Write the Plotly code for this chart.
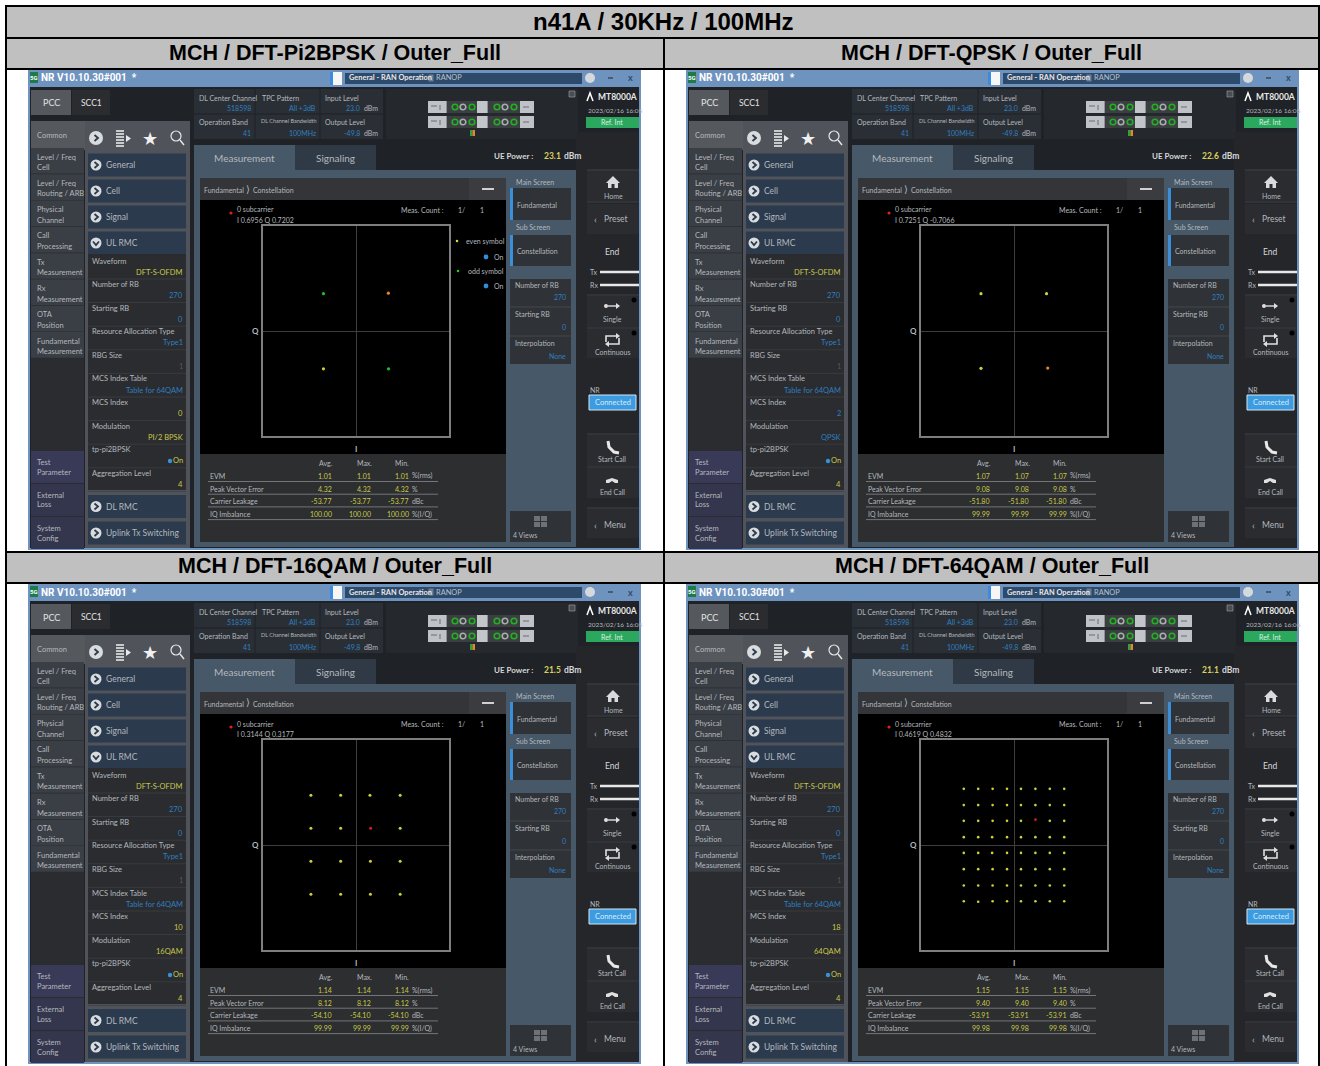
import plotly.graph_objects as go

W, H = 1320, 1066

main_title = "n41A / 30KHz / 100MHz"
panel_titles = ["MCH / DFT-Pi2BPSK / Outer_Full", "MCH / DFT-QPSK / Outer_Full",
                "MCH / DFT-16QAM / Outer_Full", "MCH / DFT-64QAM / Outer_Full"]
timestamps = ["2023/02/16 16:05", "2023/02/16 16:05", "2023/02/16 16:05", "2023/02/16 16:06"]
ue_power = ["23.1", "22.6", "21.5", "21.1"]
mcs_index = ["0", "2", "10", "18"]
modulation = ["PI/2 BPSK", "QPSK", "16QAM", "64QAM"]
mod_highlight = [True, False, True, True]
marker_text = ["I 0.6956 Q 0.7202", "I 0.7251 Q -0.7066", "I 0.3144 Q 0.3177", "I 0.4619 Q 0.4832"]

evm = ["1.01", "1.07", "1.14", "1.15"]
peak_vector = ["4.32", "9.08", "8.12", "9.40"]
carrier_leak = ["-53.77", "-51.80", "-54.10", "-53.91"]
iq_imbalance = ["100.00", "99.99", "99.99", "99.98"]

# constellation points (I, Q)
bpsk_even_i = [-0.70]
bpsk_even_q = [-0.72]
bpsk_odd_i = [-0.70, 0.70]
bpsk_odd_q = [0.71, -0.72]
bpsk_mark_i = [0.6956]
bpsk_mark_q = [0.7202]

qpsk_even_i = [-0.71, 0.70, -0.71]
qpsk_even_q = [0.71, 0.71, -0.71]
qpsk_odd_i = []
qpsk_odd_q = []
qpsk_mark_i = [0.7251]
qpsk_mark_q = [-0.7066]

qam16_even_i = [-0.97, -0.33, 0.30, 0.95,
                -0.97, -0.33, 0.95,
                -0.97, -0.33, 0.31, 0.95,
                -0.97, -0.33, 0.31, 0.95]
qam16_even_q = [0.95, 0.95, 0.95, 0.95,
                0.32, 0.32, 0.32,
                -0.31, -0.31, -0.31, -0.31,
                -0.94, -0.94, -0.94, -0.94]
qam16_odd_i = []
qam16_odd_q = []
qam16_mark_i = [0.3144]
qam16_mark_q = [0.3177]

qam64_even_i = [-1.08, -0.77, -0.46, -0.15, 0.15, 0.46, 0.77, 1.08,
                -1.08, -0.77, -0.46, -0.15, 0.15, 0.46, 0.77, 1.08,
                -1.08, -0.77, -0.46, -0.15, 0.15, 0.77, 1.08,
                -1.08, -0.77, -0.47, -0.15, 0.15, 0.46, 0.77, 1.08,
                -1.08, -0.77, -0.47, -0.15, 0.15, 0.46, 0.77, 1.08,
                -1.08, -0.77, -0.46, -0.15, 0.15, 0.46, 0.77, 1.08,
                -1.08, -0.77, -0.46, -0.15, 0.15, 0.46, 0.77, 1.08,
                -1.08, -0.77, -0.46, -0.15, 0.15, 0.46, 0.77, 1.08]
qam64_even_q = [1.07, 1.07, 1.07, 1.07, 1.07, 1.07, 1.07, 1.07,
                0.76, 0.76, 0.76, 0.76, 0.76, 0.76, 0.76, 0.76,
                0.46, 0.46, 0.46, 0.46, 0.46, 0.46, 0.46,
                0.15, 0.15, 0.15, 0.15, 0.15, 0.15, 0.15, 0.15,
                -0.15, -0.15, -0.15, -0.15, -0.15, -0.15, -0.15, -0.15,
                -0.46, -0.46, -0.46, -0.46, -0.46, -0.46, -0.46, -0.46,
                -0.77, -0.77, -0.77, -0.77, -0.77, -0.77, -0.77, -0.77,
                -1.07, -1.08, -1.07, -1.07, -1.07, -1.07, -1.07, -1.07]
qam64_odd_i = []
qam64_odd_q = []
qam64_mark_i = [0.4619]
qam64_mark_q = [0.4832]

constellations = [
    (bpsk_even_i, bpsk_even_q, bpsk_odd_i, bpsk_odd_q, bpsk_mark_i, bpsk_mark_q, "#e8842a", 3.2),
    (qpsk_even_i, qpsk_even_q, qpsk_odd_i, qpsk_odd_q, qpsk_mark_i, qpsk_mark_q, "#e8842a", 3.2),
    (qam16_even_i, qam16_even_q, qam16_odd_i, qam16_odd_q, qam16_mark_i, qam16_mark_q, "#d81e1e", 3),
    (qam64_even_i, qam64_even_q, qam64_odd_i, qam64_odd_q, qam64_mark_i, qam64_mark_q, "#d81e1e", 2.6),
]

left_tabs = [("Level / Freq", "Cell"), ("Level / Freq", "Routing / ARB"), ("Physical", "Channel"),
             ("Call", "Processing"), ("Tx", "Measurement"), ("Rx", "Measurement"),
             ("OTA", "Position"), ("Fundamental", "Measurement")]
bottom_tabs = [("Test", "Parameter"), ("External", "Loss"), ("System", "Config")]
group_buttons = [("General", 165), ("Cell", 191), ("Signal", 217), ("UL RMC", 243)]

FONT = "Lato"
SCALE = 1.0
BLUE = "#2f7fc0"
YEL = "#c9c94a"
TXT = "#b4b8bd"
WHITE = "#e4e6e8"

shapes, annos = [], []
fx = lambda x: x / W
fy = lambda y: 1 - y / H


def R(x0, y0, x1, y1, fill, line=None, lw=1):
    shapes.append(dict(type="rect", xref="paper", yref="paper", x0=fx(x0), x1=fx(x1), y0=fy(y0), y1=fy(y1),
                       fillcolor=fill, line=dict(color=line, width=lw) if line else dict(width=0), layer="below"))


def L(x0, y0, x1, y1, color, lw=1):
    shapes.append(dict(type="line", xref="paper", yref="paper", x0=fx(x0), x1=fx(x1), y0=fy(y0), y1=fy(y1),
                       line=dict(color=color, width=lw), layer="below"))


def C(cx, cy, r, fill, line=None, lw=1):
    shapes.append(dict(type="circle", xref="paper", yref="paper", x0=fx(cx - r), x1=fx(cx + r), y0=fy(cy - r), y1=fy(cy + r),
                       fillcolor=fill, line=dict(color=line, width=lw) if line else dict(width=0), layer="below"))


def P(pts, fill=None, line=None, lw=1, close=True):
    d = "M " + " L ".join(f"{fx(a):.5f} {fy(b):.5f}" for a, b in pts) + (" Z" if close else "")
    shapes.append(dict(type="path", xref="paper", yref="paper", path=d,
                       fillcolor=fill if fill else "rgba(0,0,0,0)",
                       line=dict(color=line, width=lw) if line else dict(width=0), layer="below"))


def T(x, y, s, color=TXT, size=8, anchor="left", bold=False, font=FONT):
    if bold:
        s = f"<b>{s}</b>"
    if font == FONT:
        size = size * SCALE
    annos.append(dict(xref="paper", yref="paper", x=fx(x), y=fy(y), text=s, showarrow=False, xanchor=anchor,
                      yanchor="middle", borderpad=0, font=dict(family=font, size=size, color=color)))


def chevron_btn(x, y, r=6, down=False):
    C(x, y, r, "#d9dcdf")
    if down:
        P([(x - 3, y - 1.5), (x, y + 2), (x + 3, y - 1.5)], None, "#2b3a4d", 1.8, close=False)
    else:
        P([(x - 1.5, y - 3), (x + 2, y), (x - 1.5, y + 3)], None, "#2b3a4d", 1.8, close=False)


def panel(i, ox, oy):
    X = lambda x: x + ox
    Y = lambda y: y + oy
    def r(a, b, c, d, f, **k): R(X(a), Y(b), X(c), Y(d), f, **k)
    def l(a, b, c, d, col, lw=1): L(X(a), Y(b), X(c), Y(d), col, lw)
    def c(a, b, rad, f, **k): C(X(a), Y(b), rad, f, **k)
    def p(pts, *a, **k): P([(X(u), Y(v)) for u, v in pts], *a, **k)
    def t(a, b, s, *q, **k): T(X(a), Y(b), s, *q, **k)

    # window
    r(28, 69, 641, 550, "#1f2226")
    r(28, 69, 641, 87, "#6f93bf")
    r(28, 87, 30, 550, "#6f93bf")
    r(639, 87, 641, 550, "#6f93bf")
    r(28, 548, 641, 550, "#6f93bf")
    r(30, 72, 38, 83, "#1d7a4a")
    t(34, 77.5, "5G", "#ffffff", 6, "center", True, font="Roboto")
    t(40, 78, "NR V10.10.30#001  *", "#ffffff", 10, bold=True, font="Roboto")
    r(330, 72, 333, 85, "#3b8be0")
    r(333, 72, 342, 85, "#f6f6f6")
    r(345, 73, 582, 84, "#2e4a6a")
    t(348, 78, "General - RAN Operation", "#e8e8e8", 7.4, bold=True)
    r(428.5, 74.5, 433.5, 81.5, "#6d7f94")
    t(435, 78, "RANOP", "#b8c2cc", 7.4)
    c(590, 78, 5, "#d6d9dc")
    l(608, 78, 613, 78, "#3a4a5c", 1.5)
    t(630, 78, "x", "#2e4a6a", 9, "center", True)

    # top tabs
    r(31, 90, 71, 115, "#55595e")
    t(51, 103, "PCC", "#e2e2e2", 9, "center")
    r(72, 90, 110, 115, "#2a2c30")
    t(91, 103, "SCC1", "#e2e2e2", 8.5, "center")

    # info block
    r(194, 89, 383, 139, "#2a2f36")
    l(255, 89, 255, 139, "#1f2226")
    l(320, 89, 320, 139, "#1f2226")
    l(194, 114, 383, 114, "#1f2226")
    t(198, 98, "DL Center Channel", TXT, 7)
    t(252, 108, "518598", BLUE, 7, "right")
    t(261, 98, "TPC Pattern", TXT, 7)
    t(317, 108, "All +3dB", BLUE, 7, "right")
    t(324, 98, "Input Level", TXT, 7)
    t(361, 108, "23.0", BLUE, 7, "right")
    t(363, 108, "dBm", TXT, 7)
    t(198, 122, "Operation Band", TXT, 7)
    t(252, 133, "41", BLUE, 7, "right")
    t(260, 121, "DL Channel Bandwidth", TXT, 5.5)
    t(317, 133, "100MHz", BLUE, 7, "right")
    t(324, 122, "Output Level", TXT, 7)
    t(361, 133, "-49.8", BLUE, 7, "right")
    t(363, 133, "dBm", TXT, 7)

    # block diagram
    r(386, 89, 578, 139, "#25282c")
    for y0 in (101, 116):
        r(428, y0, 534, y0 + 12, "#8d9094")
        r(428, y0, 446, y0 + 12, "#bfc2c6")
        l(431, y0 + 5, 437, y0 + 5, "#6a6d70", 1)
        l(440, y0 + 4, 440, y0 + 9, "#6a6d70", 1)
        r(447, y0, 477, y0 + 12, "#3c3f42")
        r(477, y0, 487, y0 + 12, "#c2c5c9")
        r(488, y0, 520, y0 + 12, "#3c3f42")
        r(520, y0, 534, y0 + 12, "#bfc2c6")
        l(523, y0 + 6, 529, y0 + 6, "#6a6d70", 1)
        for cx, col in [(455, "#22b022"), (463, "#a8aeae"), (472, "#22b022"),
                        (497, "#22b022"), (505, "#a8aeae"), (514, "#22b022")]:
            c(cx, y0 + 6, 2.8, "#3c3f42", line=col, lw=1.6)
    r(470, 130, 472.5, 136, "#30a040")
    r(472.5, 130, 475, 136, "#e08a30")
    r(569, 91, 575, 97, "#4a4e54", line="#a0a4a8", lw=0.6)

    # brand
    p([(587, 101), (590, 93), (593, 101)], None, "#ffffff", 1.5, close=False)
    t(597, 97, "MT8000A", "#e8e8e8", 8.5, bold=True)
    t(587, 110, timestamps[i], TXT, 6.5)
    r(586, 117, 639, 128, "#2ba85e")
    t(612, 122.5, "Ref. Int", "#d8f0e0", 7, "center")

    # left nav
    r(31, 121, 190, 150, "#55595e")
    r(31, 148, 84, 548, "#2a2c30")
    t(36, 135, "Common", TXT, 7.5)
    r(85, 121, 190, 548, "#50545a")
    chevron_btn(X(96), Y(138), 7)
    for yy in (131, 134, 137, 140, 143, 146):
        l(116, yy, 124, yy, "#e8e8e8", 1.6)
    p([(126, 135), (131, 138.5), (126, 142)], "#e8e8e8")
    t(150, 138, "★", "#f0f0f0", 18, "center", font="DejaVu Sans")
    c(176, 136, 5, "rgba(0,0,0,0)", line="#e8e8e8", lw=1.2)
    l(180, 140, 184, 145, "#e8e8e8", 1.4)

    for n, (a, b) in enumerate(left_tabs):
        y0 = 148 + n * 26.3
        r(31, y0, 84, y0 + 25.6, "#3a3e45")
        t(36, y0 + 9, a, TXT, 7.5)
        t(36, y0 + 19.5, b, TXT, 7.5)
    for n, (a, b) in enumerate(bottom_tabs):
        y0 = 451 + n * 33
        r(31, y0, 84, y0 + 32, "#383a58" if n == 0 else "#34364e")
        t(36, y0 + 11, a, TXT, 7.5)
        t(36, y0 + 21, b, TXT, 7.5)

    for name, yc in group_buttons:
        r(88, yc - 11.5, 186, yc + 11.5, "#2b3a4d")
        chevron_btn(X(96), Y(yc), 5.5, down=(name == "UL RMC"))
        t(105, yc, name, TXT, 8.5)

    r(88, 254, 186, 490, "#2a2c2f")
    rows = [("Waveform", "DFT-S-OFDM", YEL), ("Number of RB", "270", BLUE), ("Starting RB", "0", BLUE),
            ("Resource Allocation Type", "Type1", BLUE), ("RBG Size", "1", "#55585c"),
            ("MCS Index Table", "Table for 64QAM", BLUE),
            ("MCS Index", mcs_index[i], YEL if mod_highlight[i] else BLUE),
            ("Modulation", modulation[i], YEL if mod_highlight[i] else BLUE),
            ("tp-pi2BPSK", "On", YEL), ("Aggregation Level", "4", YEL)]
    for n, (lab, val, col) in enumerate(rows):
        yy = 261 + n * 23.6
        t(91, yy, lab, TXT, 7.5)
        t(184, yy + 11, val, col, 7.5, "right")
        l(88, yy + 18, 186, yy + 18, "#3c3f43", 0.8)
    c(170, 461, 2.2, "#3a90d8")
    for name, yc in [("DL RMC", 506.5), ("Uplink Tx Switching", 533)]:
        r(88, yc - 11.5, 186, yc + 11.5, "#2b3a4d")
        chevron_btn(X(96), Y(yc), 5.5)
        t(105, yc, name, TXT, 8.5)

    # main area
    r(194, 145, 295, 172, "#475868")
    t(244, 158, "Measurement", TXT, 10, "center")
    r(295, 145, 376, 170, "#2f3a46")
    t(335, 158, "Signaling", TXT, 10, "center")
    r(194, 170, 576, 547, "#475868")
    r(376, 145, 578, 170, "#1f2226")
    t(493, 156, "UE Power :", "#d6d8da", 8, bold=True)
    t(562, 156, ue_power[i], "#d9d060", 8.5, "right", True)
    t(563, 156, "dBm", "#d6d8da", 8.5, bold=True)

    r(200, 178, 506, 200, "#333538")
    r(469, 178, 506, 200, "#3a3c40")
    t(203, 190, "Fundamental", TXT, 7)
    t(247.5, 189, "⟩", TXT, 10, "center", font="DejaVu Sans")
    t(252, 190, "Constellation", TXT, 7)
    l(482, 189, 494, 189, "#d0d0d0", 2)
    r(200, 200, 506, 454, "#000000")
    r(200, 454, 506, 542, "#2c2e30")

    c(231, 213, 1.6, "#e02020")
    t(236, 209.5, "0 subcarrier", TXT, 7)
    t(236, 220, marker_text[i], TXT, 7)
    t(400, 210, "Meas. Count :", TXT, 7)
    t(457, 210, "1/", TXT, 7)
    t(479, 210, "1", TXT, 7)
    t(255, 331, "Q", TXT, 8, "center", True)
    t(356, 449, "I", TXT, 8, "center", True)
    if i == 0:
        c(457, 241, 1.3, "#d8d840")
        t(465, 241, "even symbol", TXT, 7)
        c(486, 257, 2.4, "#2f8fd8")
        t(493, 257, "On", TXT, 7)
        c(458, 271, 1.3, "#22cc22")
        t(467, 271, "odd symbol", TXT, 7)
        c(486, 286, 2.4, "#2f8fd8")
        t(493, 286, "On", TXT, 7)

    t(326, 463, "Avg.", TXT, 7, "center")
    t(364, 463, "Max.", TXT, 7, "center")
    t(402, 463, "Min.", TXT, 7, "center")
    metrics = [("EVM", evm[i], "%(rms)"), ("Peak Vector Error", peak_vector[i], "%"),
               ("Carrier Leakage", carrier_leak[i], "dBc"), ("IQ Imbalance", iq_imbalance[i], "%(I/Q)")]
    for n, (lab, val, unit) in enumerate(metrics):
        yy = 476 + n * 12.7
        t(209, yy, lab, TXT, 7)
        t(333, yy, val, YEL, 7, "right")
        t(372, yy, val, YEL, 7, "right")
        t(410, yy, val, YEL, 7, "right")
        t(411, yy, unit, TXT, 7)
        l(208, yy + 5.5, 438, yy + 5.5, "#85888c", 0.8)

    # right column in main area
    t(515, 182, "Main Screen", TXT, 7)
    r(510, 188, 571, 220, "#2f3236")
    r(510, 188, 513, 220, "#3a8fd8")
    t(516, 205, "Fundamental", TXT, 7)
    t(515, 227, "Sub Screen", TXT, 7)
    r(510, 235, 571, 266, "#2f3236")
    r(510, 235, 513, 266, "#3a8fd8")
    t(516, 251, "Constellation", TXT, 7)
    r(510, 279, 571, 364, "#2f3236")
    t(514, 285, "Number of RB", TXT, 7)
    t(567, 297, "270", BLUE, 7, "right")
    l(510, 307, 571, 307, "#45484c")
    t(514, 314, "Starting RB", TXT, 7)
    t(567, 327, "0", BLUE, 7, "right")
    l(510, 336, 571, 336, "#45484c")
    t(514, 343, "Interpolation", TXT, 7)
    t(567, 356, "None", BLUE, 7, "right")
    r(510, 511, 571, 542, "#2f3236")
    for a, b in [(534, 516), (541, 516), (534, 522), (541, 522)]:
        r(a, b, a + 6, b + 5, "#6e7278")
    t(512, 535, "4 Views", TXT, 7)

    # far right column
    r(576, 132, 639, 548, "#24262a")
    r(587, 170, 639, 201, "#2a2c30")
    p([(613, 176), (606, 183), (608, 183), (608, 188), (611.5, 188), (611.5, 184), (614.5, 184), (614.5, 188), (618, 188), (618, 183), (620, 183)], "#d8dadc")
    t(613, 195.5, "Home", TXT, 7, "center")
    l(587, 170, 639, 170, "#3d4044")
    l(587, 202, 639, 202, "#3d4044")
    r(587, 204, 639, 234, "#2a2c30")
    t(595, 219, "‹", TXT, 10, "center")
    t(603, 219, "Preset", TXT, 8.5)
    t(612, 252, "End", "#d6d8da", 8.5, "center")
    t(589, 272, "Tx", TXT, 7)
    r(600, 270.7, 639, 273.3, "#e8e8e8")
    t(589, 285, "Rx", TXT, 7)
    r(600, 283.7, 639, 286.3, "#e8e8e8")
    l(587, 295, 639, 295, "#3d4044")
    r(587, 296, 639, 327, "#2a2c30")
    c(606, 306, 2, "#e0e0e0")
    l(608, 306, 619, 306, "#e0e0e0", 1.4)
    p([(616, 303), (620, 306), (616, 309)], "#e0e0e0")
    c(634, 300, 2.5, "#000000")
    t(612, 319, "Single", TXT, 7, "center")
    l(587, 328, 639, 328, "#3d4044")
    r(587, 329, 639, 358, "#2a2c30")
    p([(606, 342), (606, 336), (617, 336)], None, "#e0e0e0", 1.6, close=False)
    p([(616, 333), (620, 336), (616, 339)], "#e0e0e0")
    p([(619, 338), (619, 344), (608, 344)], None, "#e0e0e0", 1.6, close=False)
    p([(609, 341), (605, 344), (609, 347)], "#e0e0e0")
    c(634, 333, 2.5, "#000000")
    t(612, 352, "Continuous", TXT, 7, "center")
    t(589, 390, "NR", TXT, 7)
    r(589, 395, 636, 410, "#3d9be0", line="#d0e6f6", lw=1)
    t(612.5, 402.5, "Connected", "#d8ecfa", 7.5, "center")
    l(587, 434, 639, 434, "#3d4044")
    r(587, 435, 639, 466, "#2a2c30")
    p([(608, 441), (609, 447), (614, 452), (619, 453)], None, "#e8e8e8", 3, close=False)
    t(612, 459, "Start Call", TXT, 7, "center")
    l(587, 467, 639, 467, "#3d4044")
    r(587, 468, 639, 498, "#2a2c30")
    p([(606, 483), (606, 480), (612, 478), (618, 480), (618, 483), (615, 483), (612, 481), (609, 483)], "#e0e0e0")
    t(612, 492, "End Call", TXT, 7, "center")
    l(587, 508, 639, 508, "#3d4044")
    r(587, 509, 639, 538, "#2a2c30")
    t(595, 525, "‹", TXT, 10, "center")
    t(603, 525, "Menu", TXT, 8.5)


# page table
R(0, 0, W, H, "#ffffff")
for (a, b, c_, d) in [(6, 6, 1319, 37), (6, 38, 664, 68), (664, 38, 1319, 68),
                      (6, 552, 664, 582), (664, 552, 1319, 582)]:
    R(a, b, c_, d, "#c0c0c0")

offsets = [(0, 0), (658, 0), (0, 514), (658, 514)]
for idx, (ox, oy) in enumerate(offsets):
    panel(idx, ox, oy)

for (a, b, c_, d) in [(5, 6, 1320, 6), (5, 38, 1320, 38), (5, 69, 1320, 69), (5, 552, 1320, 552), (5, 583, 1320, 583),
                      (6, 5, 6, 1066), (1319, 5, 1319, 1066), (664, 38, 664, 1066)]:
    L(a, b, c_, d, "#000000", 2)

T(663, 21, main_title, "#000000", 24, "center", True, "Liberation Sans")
for (tx, ty), s in zip([(335, 53), (992, 53), (335, 566), (992, 566)], panel_titles):
    T(tx, ty, s, "#000000", 21.5, "center", True, "Liberation Sans")

# constellation plots
fig = go.Figure()
layout = {}
for idx, ((ox, oy), data) in enumerate(zip(offsets, constellations)):
    even_i, even_q, odd_i, odd_q, mark_i, mark_q, mark_col, dot = data
    n = "" if idx == 0 else str(idx + 1)
    for xs, ys, col, name in [(even_i, even_q, "#cfcf3c", "even symbol"), (odd_i, odd_q, "#22c022", "odd symbol"),
                              (mark_i, mark_q, mark_col, "0 subcarrier")]:
        fig.add_trace(go.Scatter(x=xs, y=ys, mode="markers", name=name, showlegend=False, hoverinfo="skip",
                                 marker=dict(color=col, size=dot, line=dict(width=0)),
                                 xaxis="x" + n, yaxis="y" + n))
    axis = dict(range=[-2, 2], showgrid=False, zeroline=True, zerolinecolor="#3e3e3e", zerolinewidth=1,
                showline=True, mirror=True, linecolor="#7e7e7e", linewidth=1.5, ticks="", showticklabels=False,
                fixedrange=True)
    layout["xaxis" + n] = dict(axis, domain=[(263 + ox) / W, (449 + ox) / W], anchor="y" + n)
    layout["yaxis" + n] = dict(axis, domain=[1 - (436 + oy) / H, 1 - (226 + oy) / H], anchor="x" + n)

fig.update_layout(width=W, height=H, margin=dict(l=0, r=0, t=0, b=0), paper_bgcolor="#ffffff",
                  plot_bgcolor="rgba(0,0,0,0)", showlegend=False, shapes=shapes, annotations=annos,
                  font=dict(family=FONT), **layout)
fig.write_html("out.html", post_script="document.body.style.margin='0';document.body.style.overflow='hidden';",
               config=dict(displayModeBar=False))
